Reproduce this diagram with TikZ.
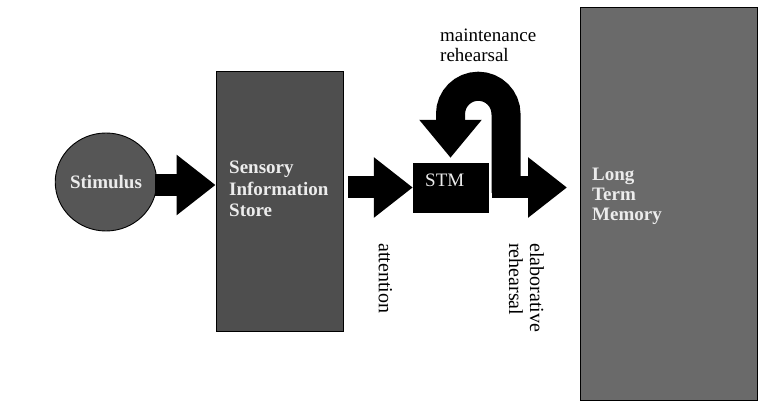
\documentclass[tikz,border=0pt]{standalone}
\usepackage{fontspec}
\setmainfont{Liberation Serif}
\usetikzlibrary{arrows.meta,shapes.geometric}
\definecolor{stimgray}{RGB}{86,86,86}
\definecolor{sisgray}{RGB}{78,78,78}
\definecolor{ltmgray}{RGB}{106,106,106}
\definecolor{boxtext}{RGB}{236,236,236}
\begin{document}
\begin{tikzpicture}[x=1pt,y=1pt,
  boxshape/.style={draw=black, line width=0.9pt, inner sep=0pt},
  boxtxt/.style={text=boxtext, inner sep=0pt, align=left, font=\fontsize{19}{21.5}\selectfont\bfseries},
  lbl/.style={text=black, inner sep=0pt, align=left, font=\fontsize{19}{20}\selectfont},
  vlbl/.style={text=black, inner sep=0pt, align=left, rotate=-90, font=\fontsize{20}{21}\selectfont},
  blk/.style={draw=black, line width=22pt, -{Triangle[width=58pt,length=39pt]}},
  loopblk/.style={draw=black, line width=29pt, -{Triangle[width=60pt,length=38pt]}}
]
\useasboundingbox (0,0) rectangle (759,409);
\fill[white] (0,0) rectangle (759,409);

% boxes
\node[boxshape, ellipse, fill=stimgray, minimum width=86pt, minimum height=98pt,
      text=boxtext, font=\fontsize{19}{21.5}\selectfont\bfseries] (stim) at (106,227) {Stimulus};
\node[boxshape, fill=sisgray, minimum width=127pt, minimum height=260pt] (sis) at (279.5,208) {};
\node[boxtxt, anchor=north west] (sistext) at (229,248) {Sensory\\Information\\Store};
\node[fill=black, draw=black, inner sep=0pt, minimum width=75pt, minimum height=49pt] (stm) at (450.5,221.5) {};
\node[text=boxtext, inner sep=0pt, anchor=base west, font=\fontsize{19}{21}\selectfont] (stmtext) at (425,222) {STM};
\node[boxshape, fill=ltmgray, minimum width=177pt, minimum height=393pt] (ltm) at (668.5,205.5) {};
\node[boxtxt, anchor=north west, font=\fontsize{19}{20}\selectfont\bfseries] (ltmtext) at (592,241) {Long\\Term\\Memory};

% labels
\node[lbl, anchor=north west] (maint) at (440,380) {maintenance\\rehearsal};
\node[vlbl, anchor=west] (att) at (385.5,166) {attention};
\node[vlbl, anchor=west] (elab) at (526.5,166) {elaborative\\rehearsal};

% arrows
\coordinate (a1start) at (155,224);
\draw[blk] (a1start) -- (a1start -| sis.west);
\draw[blk] ([xshift=5pt]sis.east |- stm.west) -- (stm.west);
\coordinate (elabtip) at (567,221.5);
\draw[blk] ([xshift=4pt]stm.east) -- (elabtip);
\coordinate (loopbase) at (506,216);
\draw[loopblk] (loopbase) -- ++(0,79) arc[start angle=0,end angle=180,radius=27.75pt] -- ([yshift=5pt]stm.north);
\end{tikzpicture}
\end{document}
